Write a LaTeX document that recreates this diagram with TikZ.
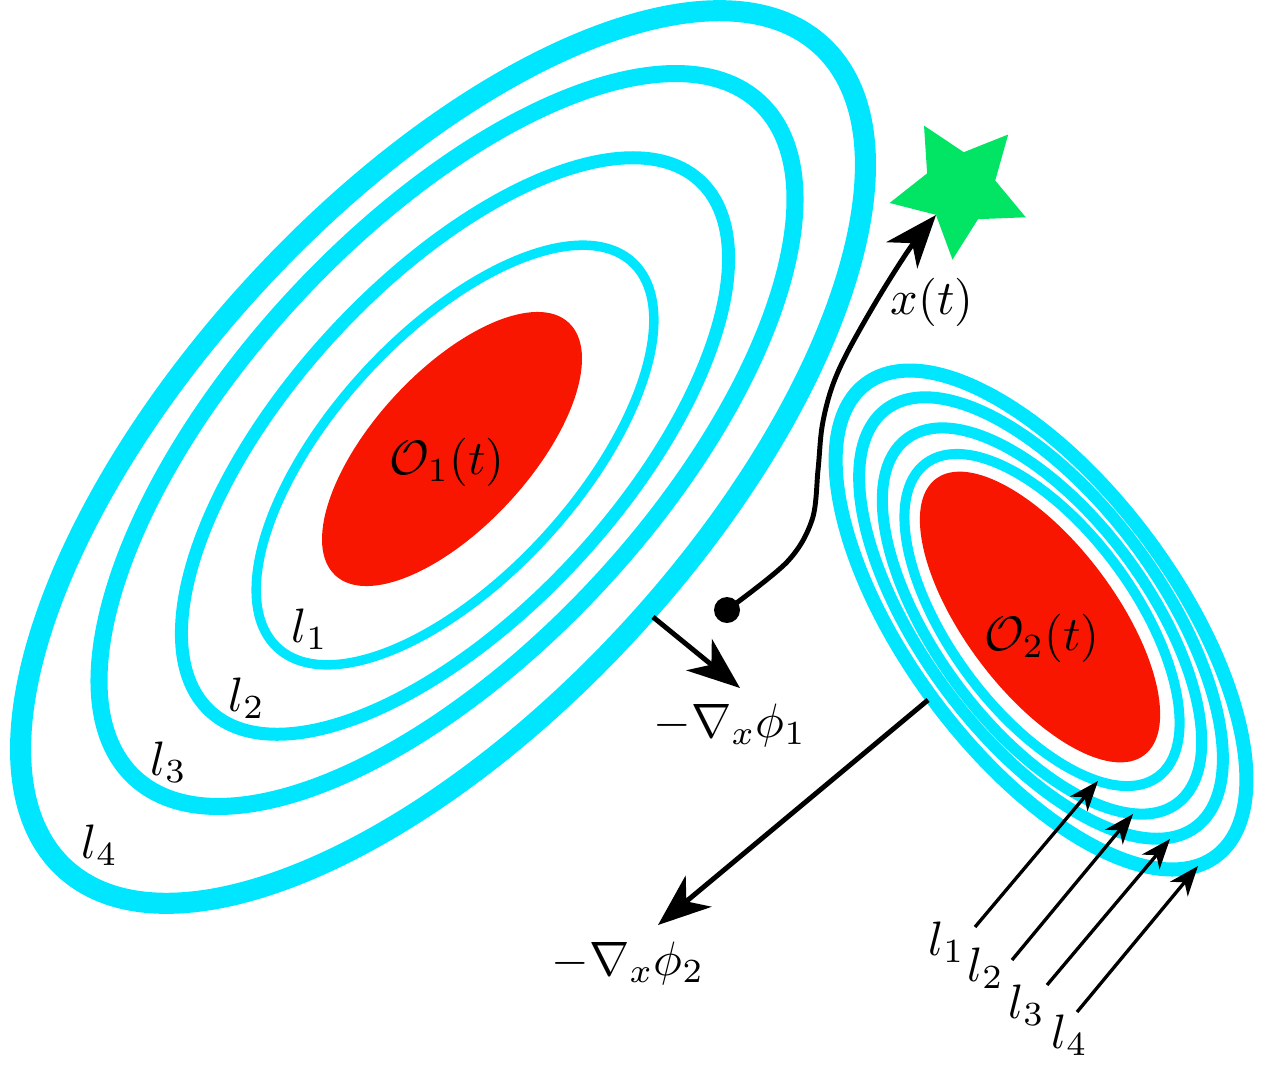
\documentclass[tikz,border=0pt]{standalone}
\usetikzlibrary{arrows.meta}
\definecolor{ringc}{RGB}{0,230,255}
\definecolor{obsc}{RGB}{248,22,0}
\definecolor{starc}{RGB}{2,228,100}
\begin{document}
\begin{tikzpicture}[x=0.02cm, y=-0.02cm,
  ring/.style={draw=ringc},
  lab/.style={scale=2.75, inner sep=0pt},
  bigarrow/.style={line width=2.8pt, -{Stealth[length=30pt,width=23pt,inset=9pt]}},
  smallarrow/.style={line width=1.9pt, -{Stealth[length=17pt,width=13pt,inset=5pt]}}]
\useasboundingbox (0,0) rectangle (1266,1065);

% ---------- left obstacle and level sets ----------
\fill[obsc, shift={(452,449)}, rotate=47.3] (0,0) ellipse [x radius=172, y radius=78];
\draw[ring, line width=5.4pt, shift={(455,455)}, rotate=47.4] (0,0) ellipse [x radius=262, y radius=122];
\draw[ring, line width=7.4pt, shift={(455,446)}, rotate=47.3] (0,0) ellipse [x radius=361, y radius=166];
\draw[ring, line width=9.7pt, shift={(447,440)}, rotate=47.25] (0,0) ellipse [x radius=460, y radius=209];
\draw[ring, line width=12pt, shift={(443,457)}, rotate=47.4] (0,0) ellipse [x radius=559, y radius=255];

% ---------- right obstacle and level sets ----------
\fill[obsc, shift={(1040,617)}, rotate=-53] (0,0) ellipse [x radius=173, y radius=75];
\draw[ring, line width=5.7pt, shift={(1042,620)}, rotate=-53.5] (0,0) ellipse [x radius=195, y radius=92];
\draw[ring, line width=6.3pt, shift={(1042,621)}, rotate=-53.5] (0,0) ellipse [x radius=227, y radius=106];
\draw[ring, line width=6.8pt, shift={(1041,618)}, rotate=-53.5] (0,0) ellipse [x radius=260, y radius=119];
\draw[ring, line width=8pt, shift={(1041,620)}, rotate=-53.5] (0,0) ellipse [x radius=294, y radius=134];

% ---------- goal star ----------
\fill[starc, shift={(960,188)}] (240:72) -- (276:36) -- (312:72) -- (348:36) -- (24:72)
  -- (60:36) -- (96:72) -- (132:36) -- (168:72) -- (204:36) -- cycle;
\coordinate (xtip) at (936,215);

% ---------- trajectory ----------
\node (x0) [circle, fill=black, inner sep=0pt, minimum size=0.52cm] at (727,610) {};
\draw[bigarrow] plot[smooth, tension=0.55] coordinates {(x0.center) (787,562) (812,520) (818,470) (822,427) (831,390) (846,355) (877,300) (910,248) (xtip)};

% ---------- gradient arrows ----------
\coordinate (g1s) at (653,617);
\coordinate (g1t) at (740,688);
\draw[bigarrow] (g1s) -- (g1t);
\coordinate (g2s) at (928,700);
\coordinate (g2t) at (658,925);
\draw[bigarrow] (g2s) -- (g2t);

% ---------- labels ----------
\node[lab] (o1) at (447,462) {$\mathcal{O}_1(t)$};
\node[lab] (o2) at (1042,638) {$\mathcal{O}_2(t)$};
\node[lab] (xt) at (932,302) {$x(t)$};
\node[lab] (gp1) at (730,725) {$-\nabla_x\phi_1$};
\node[lab] (gp2) at (628,963) {$-\nabla_x\phi_2$};

\node[lab] (la1) at (310,629) {$l_1$};
\node[lab] (la2) at (247,698) {$l_2$};
\node[lab] (la3) at (169,762) {$l_3$};
\node[lab] (la4) at (100,845) {$l_4$};

\node[lab] (lb1) at (947,942) {$l_1$};
\node[lab] (lb2) at (986,968) {$l_2$};
\node[lab] (lb3) at (1027,1005) {$l_3$};
\node[lab] (lb4) at (1070,1035) {$l_4$};

% ---------- small label arrows ----------
\coordinate (r1s) at (975,927);  \coordinate (r1t) at (1098,781);
\coordinate (r2s) at (1012,960); \coordinate (r2t) at (1133,814);
\coordinate (r3s) at (1047,985); \coordinate (r3t) at (1170,839);
\coordinate (r4s) at (1077,1012);\coordinate (r4t) at (1198,866);
\draw[smallarrow] (r1s) -- (r1t);
\draw[smallarrow] (r2s) -- (r2t);
\draw[smallarrow] (r3s) -- (r3t);
\draw[smallarrow] (r4s) -- (r4t);
\end{tikzpicture}
\end{document}
